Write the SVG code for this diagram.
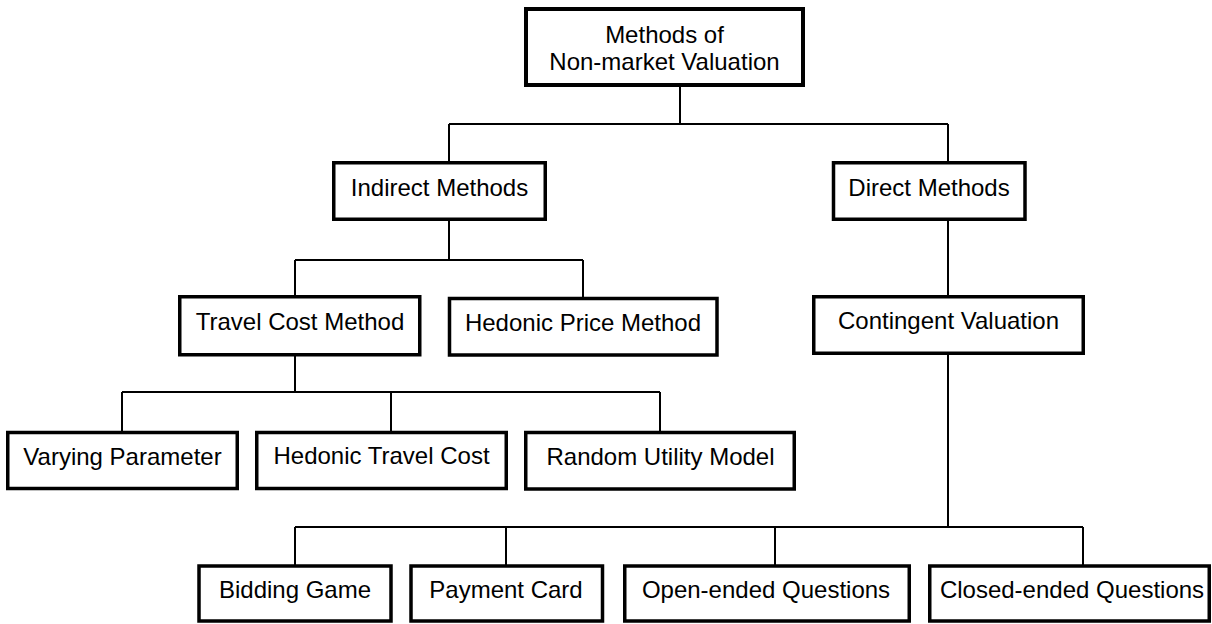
<svg xmlns="http://www.w3.org/2000/svg" width="1212" height="624" viewBox="0 0 1212 624">
  <style>
    .box { fill: #ffffff; stroke: #000000; stroke-width: 3.5; }
    .root { stroke-width: 4; }
    .conn { fill: none; stroke: #000000; stroke-width: 2; }
    text { font-family: "Liberation Sans", Arial, sans-serif; font-size: 24px; fill: #000000; text-anchor: middle; }
  </style>
  <rect x="0" y="0" width="1212" height="624" fill="#ffffff"/>
  <g id="connectors">
    <path class="conn" d="M680,87 V124 M449,124 H948 M449,124 V162 M948,124 V162"/>
    <path class="conn" d="M449,220 V260 M295,260 H583 M295,260 V297 M583,260 V298"/>
    <path class="conn" d="M948,220 V296"/>
    <path class="conn" d="M295,356 V392 M122,392 H660 M122,392 V432 M391,392 V432 M660,392 V432"/>
    <path class="conn" d="M948,354 V527 M295,527 H1083 M295,527 V566 M506,527 V566 M775,527 V566 M1083,527 V566"/>
  </g>
  <g id="node-root">
    <rect class="box root" x="526" y="9" width="277" height="76"/>
    <text x="664.5" y="43">Methods of</text>
    <text x="664.5" y="70">Non-market Valuation</text>
  </g>
  <g id="node-indirect">
    <rect class="box" x="333.75" y="162.75" width="211.5" height="56.5"/>
    <text x="439.5" y="196">Indirect Methods</text>
  </g>
  <g id="node-direct">
    <rect class="box" x="833.5" y="162.75" width="191.5" height="56.5"/>
    <text x="929" y="196">Direct Methods</text>
  </g>
  <g id="node-travel-cost">
    <rect class="box" x="179.75" y="296.75" width="240" height="58"/>
    <text x="300" y="330">Travel Cost Method</text>
  </g>
  <g id="node-hedonic-price">
    <rect class="box" x="449.5" y="298.5" width="267.5" height="56.5"/>
    <text x="583" y="331">Hedonic Price Method</text>
  </g>
  <g id="node-contingent">
    <rect class="box" x="813.75" y="296.75" width="269.5" height="56.5"/>
    <text x="948.5" y="329">Contingent Valuation</text>
  </g>
  <g id="node-varying">
    <rect class="box" x="7.75" y="432.5" width="229.5" height="56"/>
    <text x="122.5" y="465">Varying Parameter</text>
  </g>
  <g id="node-hedonic-travel">
    <rect class="box" x="256.75" y="432.5" width="249.5" height="56"/>
    <text x="381.5" y="464">Hedonic Travel Cost</text>
  </g>
  <g id="node-random-utility">
    <rect class="box" x="525.75" y="432.5" width="268.5" height="56.5"/>
    <text x="660.5" y="465">Random Utility Model</text>
  </g>
  <g id="node-bidding">
    <rect class="box" x="199" y="566" width="192" height="55"/>
    <text x="295" y="598">Bidding Game</text>
  </g>
  <g id="node-payment">
    <rect class="box" x="411" y="566" width="191.5" height="55"/>
    <text x="506" y="598">Payment Card</text>
  </g>
  <g id="node-open">
    <rect class="box" x="624.75" y="566" width="284.5" height="55"/>
    <text x="766" y="598">Open-ended Questions</text>
  </g>
  <g id="node-closed">
    <rect class="box" x="929.75" y="566" width="279.5" height="55"/>
    <text x="1072" y="598">Closed-ended Questions</text>
  </g>
</svg>
